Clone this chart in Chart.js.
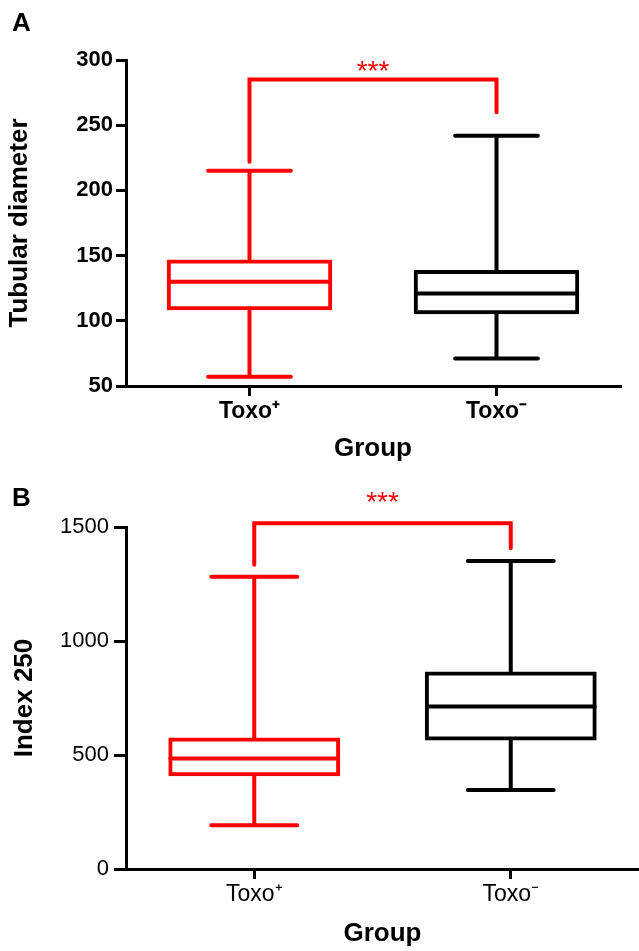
<!DOCTYPE html>
<html>
<head>
<meta charset="utf-8">
<script src="https://cdn.jsdelivr.net/npm/chart.js@4.4.0/dist/chart.umd.min.js"></script>
<style>
  body { margin: 0; background: #fff; width: 639px; height: 951px; position: relative; overflow: hidden; }
  .wrap { position: absolute; left: 0; width: 639px; }
</style>
</head>
<body>
<div class="wrap" style="top:0;height:475px"><canvas id="chartA"></canvas></div>
<div class="wrap" style="top:475px;height:476px"><canvas id="chartB"></canvas></div>
<script>
const groups = ['Toxo⁺', 'Toxo⁻']
const colors = ['#ff0000', '#000000']

// panel A - tubular diameter
const minA = [57, 71]
const q1A = [108, 105]
const medA = [130, 121]
const q3A = [147, 139]
const maxA = [215, 242]
const sigA = [222, 285, 260]   // left leg end, bracket top, right leg end
const yTicksA = [50, 100, 150, 200, 250, 300]

// panel B - index 250
const minB = [192, 347]
const q1B = [407, 564]
const medB = [485, 713]
const q3B = [577, 866]
const maxB = [1282, 1351]
const sigB = [1334, 1516, 1407]
const yTicksB = [0, 500, 1000, 1500]

Chart.defaults.font.family = '"Liberation Sans", Arial, sans-serif'
Chart.defaults.color = '#000'

const boxExtras = {
    id: 'boxExtras',
    afterDatasetsDraw(chart, args, opts) {
        const ctx = chart.ctx
        const y = chart.scales.y
        const bars = chart.getDatasetMeta(0).data
        ctx.save()
        ctx.lineWidth = 4
        ctx.lineCap = 'round'
        bars.forEach((bar, i) => {
            const half = bar.width / 2
            ctx.strokeStyle = colors[i]
            ctx.beginPath()
            const ym = y.getPixelForValue(opts.med[i])
            ctx.moveTo(bar.x - half + 2, ym)
            ctx.lineTo(bar.x + half - 2, ym)
            const yMax = y.getPixelForValue(opts.max[i])
            const yMin = y.getPixelForValue(opts.min[i])
            ctx.moveTo(bar.x, y.getPixelForValue(opts.q3[i]))
            ctx.lineTo(bar.x, yMax)
            ctx.moveTo(bar.x, y.getPixelForValue(opts.q1[i]))
            ctx.lineTo(bar.x, yMin)
            ctx.moveTo(bar.x - half / 2, yMax)
            ctx.lineTo(bar.x + half / 2, yMax)
            ctx.moveTo(bar.x - half / 2, yMin)
            ctx.lineTo(bar.x + half / 2, yMin)
            ctx.stroke()
        })
        // significance bracket
        const x0 = bars[0].x, x1 = bars[1].x
        const top = y.getPixelForValue(opts.sig[1])
        ctx.strokeStyle = '#ff0000'
        ctx.lineJoin = 'miter'
        ctx.beginPath()
        ctx.moveTo(x0, y.getPixelForValue(opts.sig[0]))
        ctx.lineTo(x0, top)
        ctx.lineTo(x1, top)
        ctx.lineTo(x1, y.getPixelForValue(opts.sig[2]))
        ctx.stroke()
        ctx.fillStyle = '#ff0000'
        ctx.font = '28px "Liberation Sans", Arial, sans-serif'
        ctx.textAlign = 'center'
        ctx.textBaseline = 'alphabetic'
        ctx.fillText('***', (x0 + x1) / 2, top - opts.starGap)
        // panel letter
        ctx.fillStyle = '#000'
        ctx.font = 'bold 26px "Liberation Sans", Arial, sans-serif'
        ctx.textAlign = 'left'
        ctx.fillText(opts.panel, 12, opts.panelY)
        ctx.restore()
    }
}

function makeChart(el, cfg) {
    return new Chart(document.getElementById(el), {
        type: 'bar',
        data: {
            labels: groups,
            datasets: [{
                data: groups.map((g, i) => [cfg.q1[i], cfg.q3[i]]),
                backgroundColor: 'rgba(255,255,255,0)',
                borderColor: colors,
                borderWidth: 4,
                borderSkipped: false,
                barPercentage: 0.67,
                categoryPercentage: 1
            }]
        },
        options: {
            responsive: true,
            maintainAspectRatio: false,
            animation: false,
            events: [],
            layout: { padding: { left: 0, right: cfg.padRight, top: cfg.padTop, bottom: 0 } },
            plugins: {
                legend: { display: false },
                tooltip: { enabled: false },
                boxExtras: {
                    min: cfg.min, q1: cfg.q1, med: cfg.med, q3: cfg.q3, max: cfg.max,
                    sig: cfg.sig, starGap: cfg.starGap, panel: cfg.panel, panelY: cfg.panelY
                }
            },
            scales: {
                x: {
                    afterFit: s => { s.height = cfg.xHeight },
                    border: { color: '#000', width: 3 },
                    grid: { display: true, drawOnChartArea: false, offset: false, tickLength: 10, color: '#000', lineWidth: 3 },
                    ticks: { font: { size: 23, weight: cfg.tickWeight }, padding: 2, color: '#000' },
                    title: { display: true, text: 'Group', font: { size: 26, weight: 'bold' }, color: '#000', padding: { top: 0, bottom: cfg.xTitlePad } }
                },
                y: {
                    min: cfg.yTicks[0],
                    max: cfg.yTicks[cfg.yTicks.length - 1],
                    afterFit: s => { s.width = 126 },
                    afterBuildTicks: s => { s.ticks = cfg.yTicks.map(v => ({ value: v })) },
                    border: { color: '#000', width: 3 },
                    grid: { display: true, drawOnChartArea: false, tickLength: cfg.yTickLen, color: '#000', lineWidth: 3 },
                    ticks: { font: { size: 22, weight: cfg.tickWeight }, padding: cfg.yTickPad, color: '#000', callback: v => String(v) },
                    title: { display: true, text: cfg.yTitle, font: { size: 26, weight: 'bold' }, color: '#000', padding: { top: cfg.yTitlePad, bottom: 0 } }
                }
            }
        },
        plugins: [boxExtras]
    })
}

makeChart('chartA', {
    min: minA, q1: q1A, med: medA, q3: q3A, max: maxA, sig: sigA, yTicks: yTicksA,
    yTitle: 'Tubular diameter', panel: 'A', panelY: 31, starGap: 0,
    padTop: 60, padRight: 19, xHeight: 89, xTitlePad: 11,
    tickWeight: 'bold', yTickLen: 10, yTickPad: 3, yTitlePad: 4
})

makeChart('chartB', {
    min: minB, q1: q1B, med: medB, q3: q3B, max: maxB, sig: sigB, yTicks: yTicksB,
    yTitle: 'Index 250', panel: 'B', panelY: 31, starGap: 12,
    padTop: 52, padRight: 0, xHeight: 82, xTitlePad: 2,
    tickWeight: 'normal', yTickLen: 12, yTickPad: 5, yTitlePad: 9
})
</script>
</body>
</html>
